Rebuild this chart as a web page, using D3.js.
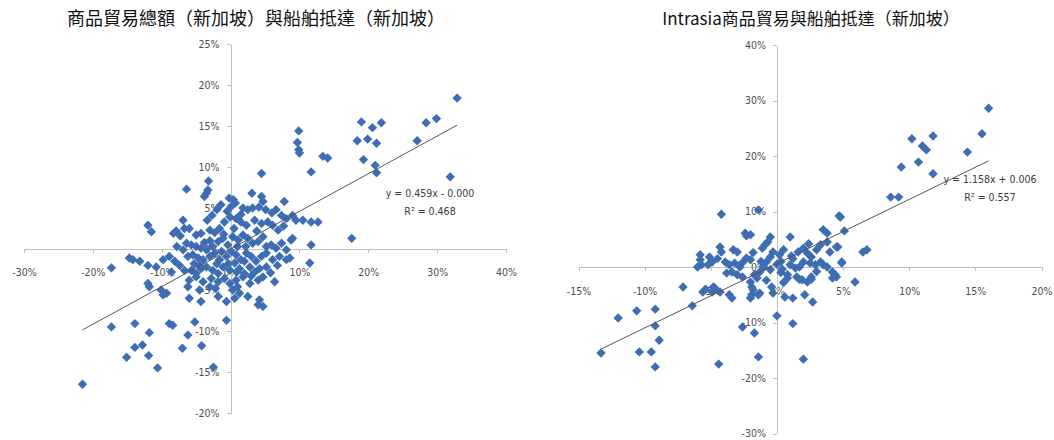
<!DOCTYPE html>
<html>
<head>
<meta charset="utf-8">
<script src="https://cdn.jsdelivr.net/npm/d3@7"></script>
<style>
  html, body { margin: 0; padding: 0; background: #fff; }
  svg { display: block; }
  .axis text, .eq { font-family: "DejaVu Sans Condensed", "DejaVu Sans", sans-serif; font-size: 10.5px; fill: #4d4d4d; }
  .eq { fill: #3a3a3a; }
  .axis path, .axis line { stroke: #bfbfbf; stroke-width: 1; shape-rendering: crispEdges; }
  .title { font-family: "Noto Sans CJK TC", "Noto Sans CJK SC", sans-serif; font-weight: 400; fill: #111; }
</style>
</head>
<body>
<svg id="chart" width="1054" height="440"></svg>
<script>
// ---- Panel 1: total merchandise trade (x, %) vs ship arrivals (y, %), Singapore ----
const totalTitle = "商品貿易總額（新加坡）與船舶抵達（新加坡）";
const totalXTicks = [-30, -20, -10, 0, 10, 20, 30, 40];
const totalYTicks = [-20, -15, -10, -5, 0, 5, 10, 15, 20, 25];
const totalFit = { slope: 0.459, intercept: -0.000, r2: 0.468 };
const totalPoints = [
  [32.9,18.4],[19.0,15.5],[20.6,14.8],[21.9,15.4],[18.4,13.2],[19.9,13.4],[21.2,12.9],[28.4,15.4],
  [29.9,15.9],[27.1,13.2],[19.3,10.9],[21.0,10.2],[21.2,9.3],[31.9,8.8],[9.9,14.4],[9.7,13.0],
  [9.9,12.1],[17.6,1.3],[-17.3,-2.3],[-17.3,-9.5],[-13.9,-12.0],[-12.8,-11.7],[-15.1,-13.2],
  [-11.9,-13.0],[-10.6,-14.5],[-7.0,-12.1],[-4.2,-11.8],[-2.5,-14.4],[-21.5,-16.5],[-11.8,-10.2],
  [-6.2,-10.5],[-14.7,-1.1],
  [10.0,11.7],[11.7,9.4],[13.4,11.3],[14.1,11.1],[4.5,9.2],[-6.4,7.3],[-3.2,8.3],[-3.3,7.2],
  [-3.5,6.8],[-3.8,6.4],[-0.2,6.2],[0.4,6.0],[0.7,5.6],[0.1,5.2],[3.1,6.8],[4.5,6.4],[4.7,5.8],
  [7.8,5.8],[1.8,5.0],[2.5,4.8],[3.2,5.0],[4.1,5.1],[5.1,4.8],[6.0,4.4],[6.6,4.8],[7.4,4.1],
  [8.1,3.7],[9.0,4.1],[9.5,3.5],[10.5,3.5],[11.7,3.3],[12.7,3.3],
  [-2.0,4.8],[-2.7,4.1],[-3.4,3.5],[-3.0,2.3],[-2.3,2.0],[-1.6,2.5],[-0.9,3.3],[-0.1,3.9],
  [0.8,3.7],[1.5,3.3],[2.3,2.9],[3.5,3.5],[4.5,3.1],[5.4,3.3],[6.1,2.9],[6.9,2.3],
  [-6.9,3.5],[-6.7,2.5],[-7.9,2.2],[-8.3,1.9],[-7.3,1.6],[-6.0,2.5],[-5.0,1.7],[-4.3,1.9],
  [-12.0,2.9],[-11.5,2.1],
  [-6.4,0.7],[-5.7,0.5],[-5.0,0.3],[-4.3,0.1],[-3.5,-0.1],[-2.6,0.3],[-1.8,0.9],[-1.1,1.3],
  [-0.4,0.5],[0.3,1.5],[1.1,1.1],[1.8,1.7],[2.5,1.3],[3.2,0.7],[4.0,0.9],[4.7,1.5],[5.2,0.3],
  [5.9,0.5],[6.6,0.1],[7.4,0.7],[8.1,-0.1],[8.8,1.1],[9.0,1.3],[11.7,0.5],[11.5,-1.7],
  [-6.9,-0.1],[-6.2,-0.9],[-5.5,-0.7],[-4.7,-1.1],[-4.0,-1.3],[-3.0,-0.9],[-2.3,-0.5],[-1.6,-1.3],
  [-0.6,-0.9],[0.1,-0.3],[0.8,-0.7],[1.5,-1.3],[2.3,-0.5],[3.0,-0.9],[3.7,-1.5],[4.5,-0.9],
  [5.2,-0.5],[6.1,-1.3],[7.1,-0.9],[8.1,-1.3],[8.6,-1.1],
  [-9.8,-1.3],[-8.9,-0.9],[-8.1,-1.5],[-7.4,-2.0],[-14.2,-1.3],[-13.2,-1.5],[-12.0,-2.0],[-10.8,-2.2],
  [-6.7,-2.6],[-5.7,-2.6],[-5.0,-3.0],[-4.3,-2.4],[-3.5,-2.2],[-2.6,-2.6],[-1.8,-3.0],[-1.1,-2.2],
  [-0.1,-2.6],[0.6,-1.7],[1.3,-2.4],[2.0,-3.0],[2.8,-2.2],[3.5,-2.8],[4.2,-2.4],[5.2,-2.2],[6.4,-4.0],
  [-6.0,-3.8],[-5.0,-3.4],[-4.0,-4.0],[-2.8,-3.6],[-1.8,-4.0],[-0.9,-3.6],[-0.1,-4.2],[0.8,-3.8],
  [1.8,-3.4],[2.8,-4.2],[4.0,-3.8],[4.7,-3.4],
  [-6.2,-4.6],[-4.5,-5.0],[-3.0,-4.6],[-1.8,-5.8],[-0.6,-6.4],[0.3,-5.0],[1.3,-5.4],[2.5,-5.8],
  [4.2,-6.2],[4.7,-7.0],[4.0,-6.8],[-4.3,-6.4],[-6.0,-6.0],
  [-12.0,-4.2],[-11.8,-4.6],[-10.1,-5.0],[-9.8,-5.6],[-9.3,-5.4],
  [-0.6,-8.7],[-5.2,-8.9],[-8.9,-9.1],[-8.4,-9.3],[-13.9,-9.1],
  [-1.0,1.8],[0.5,2.5],[1.0,0.3],[-0.3,-1.8],[2.0,-1.5],[-2.0,-1.8],[-3.0,1.0],[3.8,2.2],
  [-1.3,-0.3],[0.9,-2.8],[2.2,0.3],[-4.5,-2.0],[-3.8,0.8],[1.5,4.2],[-0.5,4.6],[3.0,-3.3],
  [5.8,-2.9],[6.8,-2.0],[-2.2,-4.8],[1.0,-4.6],[-5.3,-1.8],[7.7,2.8],[-7.8,0.3],[-8.6,-2.8],
  [-1.4,5.4],[0.6,-6.0]
];

// ---- Panel 2: intra-Asia merchandise trade (x, %) vs ship arrivals (y, %), Singapore ----
const intraTitle = "Intrasia商品貿易與船舶抵達（新加坡）";
const intraXTicks = [-15, -10, -5, 0, 5, 10, 15, 20];
const intraYTicks = [-30, -20, -10, 0, 10, 20, 30, 40];
const intraFit = { slope: 1.158, intercept: 0.006, r2: 0.557 };
const intraPoints = [
  [16.0,28.6],[15.5,24.0],[14.4,20.7],[10.2,23.1],[11.8,23.6],[11.0,21.8],[11.3,21.1],[10.7,18.9],
  [9.4,18.0],[11.8,16.8],[8.6,12.6],[9.2,12.6],[4.7,9.2],[4.8,9.0],[5.1,6.5],[3.5,6.7],[3.8,6.1],
  [6.5,2.7],[6.8,3.1],[4.6,3.6],[1.0,5.4],[-4.2,9.5],[-1.4,10.3],
  [-13.3,-15.5],[-12.0,-9.2],[-10.6,-7.9],[-9.2,-7.6],[-9.2,-10.6],[-8.9,-13.2],[-10.4,-15.3],
  [-9.5,-15.3],[-9.2,-18.0],[-7.1,-3.6],[-6.4,-7.0],[-4.4,-17.5],[-2.6,-10.8],[-1.7,-11.9],
  [-1.4,-16.2],[0.0,-8.8],[1.2,-10.2],[2.0,-16.6],
  [-2.4,6.1],[-2.3,5.6],[-2.0,5.8],[-0.5,5.4],[-0.7,4.5],[-0.9,4.0],[-1.1,3.4],[-4.3,3.6],
  [-4.2,2.7],[-3.3,3.1],[-3.0,2.7],
  [-5.8,2.2],[-5.1,1.8],[-4.9,0.9],[-5.7,0.4],[-5.2,0.4],[-6.0,0.0],[-3.9,0.9],[-3.6,0.4],
  [-3.2,0.7],[-2.8,0.0],[-2.3,1.6],[-2.0,1.3],[-3.8,-1.1],[-3.4,-0.9],[-3.0,-1.4],[-2.6,-1.8],
  [-1.7,-1.4],[-1.5,-2.0],[-1.3,-0.9],[-0.8,0.9],[-0.5,1.8],[-0.3,2.7],[0.2,2.2],[0.5,3.1],
  [1.6,2.7],[2.0,3.4],[2.3,2.5],[2.6,1.8],[3.0,3.1],[3.3,4.0],[3.8,4.5],[4.0,2.7],[4.5,3.6],[4.9,0.9],
  [1.0,0.4],[1.4,-0.2],[1.7,0.0],[2.0,0.9],[2.5,0.7],[2.9,0.4],[3.3,0.9],[3.5,0.4],[3.8,0.0],
  [4.2,-0.9],[4.5,-1.8],[0.8,-1.4],[0.8,-2.0],[1.5,-1.8],[1.9,-2.3],[2.3,-2.7],[2.6,-1.8],
  [-2.0,-2.7],[-1.9,-3.6],[-1.8,-4.1],[-1.4,-5.0],[-1.9,-5.0],[-2.0,-5.6],[-4.8,-3.6],[-5.6,-4.5],
  [-4.9,-4.5],[-4.3,-4.5],[-3.6,-5.0],[-3.4,-5.6],
  [-0.4,-3.6],[-0.3,-4.7],[0.6,-5.4],[1.2,-5.6],[2.1,-5.0],[2.7,-6.3],
  [5.9,-2.7],[1.7,-2.2],[2.6,-2.2],[4.2,-2.0],[4.4,-1.4],[4.9,0.7],
  [-5.4,-4.0],[-4.7,-3.8],[-1.3,-4.7],[-5.8,1.3],[0.0,0.5],[-0.5,-0.5],[0.3,-1.0],[-1.0,0.0],
  [1.2,1.5],[0.5,-2.8],
  [0.3,1.0],[-1.8,2.6],[-2.6,0.8],[3.0,-0.8],[1.1,2.0],[-0.8,-2.4],[2.4,4.2],[-4.5,1.5],
  [-1.2,1.0],[0.4,-0.4]
];

const svg = d3.select("#chart");
const markerColor = "#3d6db3";
const diamond = d3.symbol().type(d3.symbolSquare).size(44)();

function fmtFit(f) {
  const sign = f.intercept < 0 || Object.is(f.intercept, -0) ? "-" : "+";
  return "y = " + f.slope.toFixed(3) + "x " + sign + " " + Math.abs(f.intercept).toFixed(3);
}

function drawPanel(cfg) {
  const g = svg.append("g");
  const x = d3.scaleLinear().domain(cfg.xDomain).range(cfg.xRange);
  const y = d3.scaleLinear().domain(cfg.yDomain).range(cfg.yRange);

  g.append("text").attr("class", "title")
    .attr("x", cfg.titleX).attr("y", 25)
    .attr("text-anchor", "middle")
    .style("font-size", cfg.titleSize + "px")
    .text(cfg.title);

  g.append("g").attr("class", "axis")
    .attr("transform", `translate(0,${y(0)})`)
    .call(d3.axisBottom(x).tickValues(cfg.xTicks).tickSize(4).tickSizeOuter(0)
      .tickPadding(cfg.xPad).tickFormat(d => d + "%"));

  g.append("g").attr("class", "axis")
    .attr("transform", `translate(${x(0)},0)`)
    .call(d3.axisLeft(y).tickValues(cfg.yTicks).tickSize(4).tickSizeOuter(0)
      .tickPadding(7).tickFormat(d => d + "%"));

  g.append("g").selectAll("path")
    .data(cfg.points)
    .join("path")
    .attr("d", diamond)
    .attr("transform", d => `translate(${x(d[0])},${y(d[1])}) rotate(45)`)
    .attr("fill", markerColor);

  // linear trend line over the observed x range (fit is in fractional units)
  const [xMin, xMax] = d3.extent(cfg.points, d => d[0]);
  const fitY = xv => (cfg.fit.slope * xv / 100 + cfg.fit.intercept) * 100;
  g.append("line")
    .attr("x1", x(xMin)).attr("y1", y(fitY(xMin)))
    .attr("x2", x(xMax)).attr("y2", y(fitY(xMax)))
    .attr("stroke", "#555").attr("stroke-width", 1);

  g.append("text").attr("class", "eq")
    .attr("x", cfg.eqX).attr("y", cfg.eqY).attr("text-anchor", "middle")
    .text(fmtFit(cfg.fit));
  g.append("text").attr("class", "eq")
    .attr("x", cfg.eqX).attr("y", cfg.eqY + 18).attr("text-anchor", "middle")
    .text("R² = " + cfg.fit.r2.toFixed(3));
}

drawPanel({
  title: totalTitle, titleX: 256, titleSize: 18,
  xDomain: [-30, 40], xRange: [24, 506],
  yDomain: [-20, 25], yRange: [413, 44],
  xTicks: totalXTicks, yTicks: totalYTicks, xPad: 16,
  points: totalPoints, fit: totalFit,
  eqX: 430, eqY: 197
});

drawPanel({
  title: intraTitle, titleX: 811, titleSize: 17,
  xDomain: [-15, 20], xRange: [578.5, 1041.5],
  yDomain: [-30, 40], yRange: [433.5, 45],
  xTicks: intraXTicks, yTicks: intraYTicks, xPad: 17,
  points: intraPoints, fit: intraFit,
  eqX: 990, eqY: 183
});
</script>
</body>
</html>
